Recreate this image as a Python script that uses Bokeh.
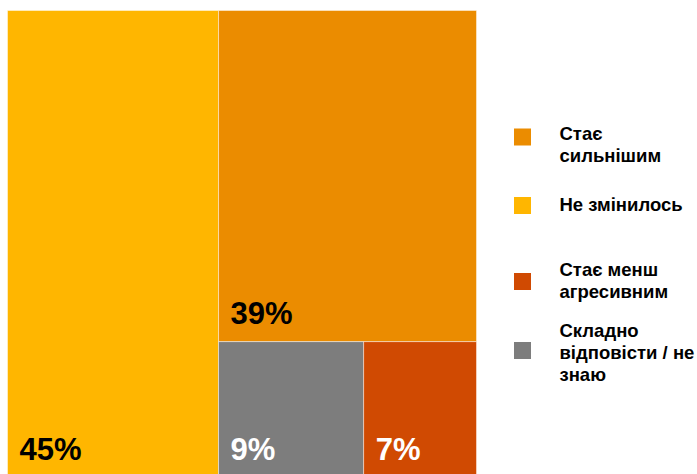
from bokeh.plotting import figure
from bokeh.models import Range1d, ColumnDataSource
from bokeh.core.properties import value
from bokeh.embed import file_html
from bokeh.resources import INLINE

# ---- data ----
categories = ["Не змінилось", "Стає сильнішим", "Складно відповісти / не знаю", "Стає менш агресивним"]
values = [45, 39, 9, 7]
labels = ["45%", "39%", "9%", "7%"]
legend_order = ["Стає сильнішим", "Не змінилось", "Стає менш агресивним", "Складно відповісти / не знаю"]
legend_lines = {
    "Стає сильнішим": ["Стає", "сильнішим"],
    "Не змінилось": ["Не змінилось"],
    "Стає менш агресивним": ["Стає менш", "агресивним"],
    "Складно відповісти / не знаю": ["Складно", "відповісти / не", "знаю"],
}

# ---- style ----
colors = {
    "Не змінилось": "#FFB600",
    "Стає сильнішим": "#EB8C00",
    "Складно відповісти / не знаю": "#7D7D7D",
    "Стає менш агресивним": "#D04A02",
}
label_colors = {
    "Не змінилось": "#000000",
    "Стає сильнішим": "#000000",
    "Складно відповісти / не знаю": "#FFFFFF",
    "Стає менш агресивним": "#FFFFFF",
}
FONT = "Liberation Sans"
W, H = 697, 474
# treemap box in pixels
L_PX, R_PX, T_PX, B_PX = 7, 476, 10, 477
SX = (R_PX - L_PX) / 100.0
SY = (B_PX - T_PX) / 100.0
LABEL_PX = 31
LEG_PX = 18.5
BASE_FIX = 0.43  # baseline correction (em) for renderer


def dx(px):
    return (px - L_PX) / SX


def dy(py):
    return (B_PX - py) / SY


# ---- simple slice treemap layout (0..100 x 0..100) ----
def layout(vals, x0, y0, x1, y1):
    rects = []
    for i, v in enumerate(vals):
        rem = sum(vals[i:])
        w_px = (x1 - x0) * SX
        h_px = (y1 - y0) * SY
        if i == len(vals) - 1:
            rects.append((x0, y0, x1, y1))
            break
        frac = v / rem
        if w_px >= h_px:
            xm = x0 + (x1 - x0) * frac
            rects.append((x0, y0, xm, y1))
            x0 = xm
        else:
            ym = y1 - (y1 - y0) * frac
            rects.append((x0, ym, x1, y1))
            y1 = ym
    return rects


rects = layout(values, 0, 0, 100, 100)

p = figure(width=W, height=H, output_backend="svg", toolbar_location=None,
           x_range=Range1d(dx(0), dx(W)), y_range=Range1d(dy(H), dy(0)),
           min_border=0, min_border_left=0, min_border_right=0,
           min_border_top=0, min_border_bottom=0)
p.axis.visible = False
p.grid.visible = False
p.outline_line_color = None
p.background_fill_color = "white"
p.border_fill_color = "white"

lab_shift = 15 + BASE_FIX * LABEL_PX
src = ColumnDataSource(dict(
    left=[r[0] for r in rects], bottom=[r[1] for r in rects],
    right=[r[2] for r in rects], top=[r[3] for r in rects],
    color=[colors[c] for c in categories],
    label=labels,
    lx=[r[0] + 12 / SX for r in rects],
    ly=[r[1] + lab_shift / SY for r in rects],
    lcolor=[label_colors[c] for c in categories],
))
p.quad(left="left", right="right", bottom="bottom", top="top", source=src,
       fill_color="color", line_color="white", line_alpha=0.45, line_width=1)
p.text(x="lx", y="ly", text="label", source=src, text_color="lcolor",
       text_font=value(FONT), text_font_style="bold", text_font_size=f"{LABEL_PX}px",
       text_baseline="alphabetic", text_align="left")

# ---- legend ----
sq_y = [136.5, 205, 281, 350]
first_base = [141, 212, 277, 338]
line_h = 22
sq_x = 522
txt_x = 559
p.scatter(x=[dx(sq_x)] * len(legend_order), y=[dy(v) for v in sq_y], marker="square",
          size=17, fill_color=[colors[c] for c in legend_order], line_color=None)
tx, ty, tt = [], [], []
for i, c in enumerate(legend_order):
    for j, ln in enumerate(legend_lines[c]):
        tx.append(dx(txt_x))
        ty.append(dy(first_base[i] + j * line_h - BASE_FIX * LEG_PX))
        tt.append(ln)
p.text(x=tx, y=ty, text=tt, text_color="#000000", text_font=value(FONT),
       text_font_style="bold", text_font_size=f"{LEG_PX}px", text_baseline="alphabetic",
       text_align="left")

open("out.html", "w").write(file_html(p, INLINE))
